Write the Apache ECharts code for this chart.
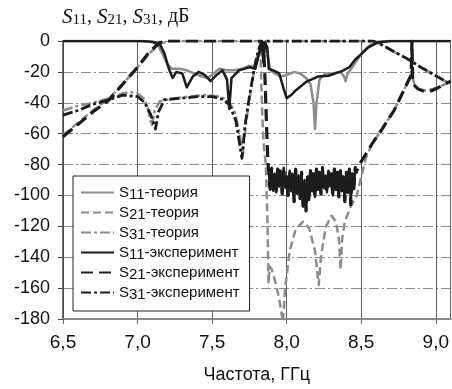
<!DOCTYPE html>
<html>
<head>
<meta charset="utf-8">
<script src="https://cdn.jsdelivr.net/npm/echarts@6/dist/echarts.min.js"></script>
<style>
  html, body { margin: 0; padding: 0; background: #fff; }
  #chart { width: 452px; height: 389px; }
</style>
</head>
<body>
<div id="chart"></div>
<script>
// Frequency axis ticks (GHz) and level ticks (dB)
const freqTicks = [6.5, 7.0, 7.5, 8.0, 8.5, 9.0];
const levelTicks = [0, -20, -40, -60, -80, -100, -120, -140, -160, -180];

const seriesNames = ['S11-теория', 'S21-теория', 'S31-теория',
                     'S11-эксперимент', 'S21-эксперимент', 'S31-эксперимент'];

// [frequency GHz, level dB]
const s11Theory = [
  [6.5, 0], [7.05, 0], [7.10, -0.8], [7.14, -3], [7.17, -9], [7.20, -15], [7.23, -18],
  [7.28, -18], [7.33, -19], [7.38, -21], [7.43, -23], [7.47, -24], [7.51, -21],
  [7.55, -18], [7.60, -19], [7.65, -19], [7.70, -18], [7.75, -16], [7.79, -17],
  [7.81, -10], [7.825, -2], [7.835, -0.5], [7.845, -3], [7.855, -0.5], [7.865, -1],
  [7.875, -10], [7.89, -19], [7.92, -21], [7.96, -23], [8.00, -22], [8.05, -20],
  [8.09, -21], [8.13, -24], [8.16, -28], [8.18, -40], [8.19, -57], [8.20, -40],
  [8.22, -25], [8.26, -21], [8.31, -21], [8.36, -20], [8.385, -23], [8.395, -26],
  [8.41, -21], [8.44, -17], [8.48, -11], [8.52, -6], [8.56, -2.5], [8.61, -0.5],
  [8.68, 0], [9.1, 0]
];

const s21Theory = [
  [6.5, -61], [6.6, -53], [6.7, -45], [6.81, -37], [6.9, -28], [7.0, -17],
  [7.08, -8], [7.15, -1.5], [7.22, 0], [7.815, 0], [7.825, -10], [7.835, -45],
  [7.845, -66], [7.86, -80], [7.872, -120], [7.878, -157], [7.885, -146],
  [7.90, -148], [7.93, -158], [7.955, -170], [7.975, -182], [7.99, -160],
  [8.02, -136], [8.06, -122], [8.11, -117], [8.15, -121], [8.19, -136],
  [8.215, -158], [8.23, -140], [8.26, -121], [8.30, -113], [8.33, -117],
  [8.35, -128], [8.362, -148], [8.372, -128], [8.39, -117], [8.43, -107],
  [8.47, -100], [8.50, -88], [8.53, -76], [8.57, -67], [8.64, -57], [8.72, -45],
  [8.80, -29], [8.835, -22], [8.84, -1], [8.845, -24], [8.86, -29], [8.88, -31],
  [8.93, -32], [8.98, -31], [9.04, -29], [9.1, -26]
];

const s31Theory = [
  [6.5, -45], [6.6, -42], [6.7, -40], [6.81, -37], [6.9, -34], [6.95, -33],
  [7.0, -34], [7.04, -37], [7.07, -44], [7.095, -55], [7.115, -45], [7.15, -39],
  [7.25, -37], [7.35, -36], [7.45, -35], [7.55, -36], [7.60, -38], [7.65, -45],
  [7.685, -60], [7.705, -74], [7.725, -55], [7.75, -38], [7.78, -20], [7.81, -6],
  [7.84, -1], [7.87, 0], [8.58, 0], [8.65, -3], [8.72, -7], [8.80, -11],
  [8.90, -17], [9.0, -22.5], [9.1, -28]
];

const s11Exp = [
  [6.5, 0], [7.02, 0], [7.10, -0.5], [7.15, -2], [7.18, -8], [7.21, -18],
  [7.235, -24], [7.26, -20], [7.30, -21], [7.33, -30], [7.37, -23], [7.41, -20],
  [7.45, -22], [7.49, -26], [7.53, -22], [7.57, -19], [7.60, -25], [7.615, -44],
  [7.63, -24], [7.68, -19], [7.75, -17], [7.79, -18], [7.815, -8], [7.83, -1],
  [7.845, -14], [7.855, -1], [7.87, -4], [7.88, -18], [7.91, -19], [7.95, -21],
  [7.98, -31], [8.0, -37], [8.03, -35], [8.06, -32], [8.13, -26.5], [8.21, -23],
  [8.28, -22.5], [8.37, -19.5], [8.42, -17], [8.46, -12], [8.50, -8.5],
  [8.55, -4], [8.61, -1], [8.70, 0], [9.1, 0]
];

// Measured transmission to port 2, including the noise floor of the stop band
const s21Exp = [
  [6.5, -62], [6.6, -54], [6.7, -46], [6.81, -38], [6.9, -28], [7.0, -17],
  [7.08, -7], [7.15, -1], [7.2, 0], [7.83, 0], [7.845, -3], [7.855, -25],
  [7.865, -55], [7.875, -80],
  [7.880, -84], [7.885, -93], [7.890, -96], [7.895, -85], [7.900, -82], [7.905, -91],
  [7.910, -97], [7.915, -88], [7.920, -86], [7.925, -95], [7.930, -98], [7.935, -87],
  [7.940, -83], [7.945, -90], [7.950, -94], [7.955, -84], [7.960, -85], [7.965, -93],
  [7.970, -99], [7.975, -89], [7.980, -82], [7.985, -88], [7.990, -95], [7.995, -90],
  [8.000, -88], [8.005, -96], [8.010, -100], [8.015, -91], [8.020, -84], [8.025, -89],
  [8.030, -97], [8.035, -92], [8.040, -86], [8.045, -95], [8.050, -104], [8.055, -93],
  [8.060, -83], [8.065, -90], [8.070, -99], [8.075, -94], [8.080, -87], [8.085, -96],
  [8.090, -102], [8.095, -92], [8.100, -85], [8.105, -97], [8.110, -107], [8.115, -96],
  [8.120, -90], [8.125, -99], [8.130, -110], [8.135, -97], [8.140, -88], [8.145, -95],
  [8.150, -103], [8.155, -91], [8.160, -84], [8.165, -90], [8.170, -97], [8.175, -93],
  [8.180, -86], [8.185, -94], [8.190, -101], [8.195, -90], [8.200, -83], [8.205, -89],
  [8.210, -96], [8.215, -91], [8.220, -85], [8.225, -93], [8.230, -99], [8.235, -88],
  [8.240, -82], [8.245, -90], [8.250, -95], [8.255, -92], [8.260, -87], [8.265, -94],
  [8.270, -98], [8.275, -89], [8.280, -84], [8.285, -91], [8.290, -94], [8.295, -88],
  [8.300, -86], [8.305, -95], [8.310, -100], [8.315, -90], [8.320, -83], [8.325, -89],
  [8.330, -96], [8.335, -92], [8.340, -85], [8.345, -94], [8.350, -101], [8.355, -91],
  [8.360, -84], [8.365, -90], [8.370, -97], [8.375, -93], [8.380, -88], [8.385, -97],
  [8.390, -104], [8.395, -94], [8.400, -85], [8.405, -92], [8.410, -98], [8.415, -89],
  [8.420, -83], [8.425, -95], [8.430, -106], [8.435, -93], [8.440, -86], [8.445, -91],
  [8.450, -96], [8.455, -88], [8.460, -82], [8.465, -85], [8.470, -86],
  [8.50, -78], [8.57, -67], [8.64, -57], [8.72, -45], [8.80, -29], [8.835, -22],
  [8.84, 0], [8.845, -25], [8.86, -29], [8.88, -31], [8.93, -33], [8.98, -32],
  [9.04, -29], [9.1, -26]
];

// Stop-band stretch of the measured S21 (dense sweep points), drawn as a solid trace
const noiseBand = [7.875, 8.47];

const s31Exp = [
  [6.5, -48], [6.6, -45], [6.7, -41], [6.81, -38], [6.9, -35], [7.0, -36],
  [7.05, -40], [7.09, -48], [7.12, -57], [7.14, -46], [7.18, -38], [7.3, -37],
  [7.4, -36], [7.5, -36], [7.58, -38], [7.62, -42], [7.66, -52], [7.70, -76],
  [7.72, -55], [7.75, -36], [7.79, -14], [7.82, -3], [7.85, 0], [8.58, 0],
  [8.65, -3], [8.72, -7], [8.80, -11], [8.90, -17], [9.0, -22.5], [9.1, -28]
];

const GRAY = '#8c8c8c';
const BLACK = '#1c1c1c';

const styles = [
  { data: s11Theory, color: GRAY, width: 2.5, type: 'solid' },
  { data: s21Theory, color: GRAY, width: 2.5, type: [8, 4] },
  { data: s31Theory, color: GRAY, width: 2.5, type: [10, 3, 3, 3] },
  { data: s11Exp, color: BLACK, width: 2.5, type: 'solid' },
  { data: s21Exp, color: BLACK, width: 3.2, type: [12, 6] },
  { data: s31Exp, color: BLACK, width: 2.8, type: [10, 3, 3, 3] }
];

const chart = echarts.init(document.getElementById('chart'), null, { renderer: 'canvas' });

const subName = n => n.replace(/S(\d+)/, 'S{sub|$1}');

const serifBase = { fontFamily: 'Liberation Serif', fontWeight: 'normal', color: '#111', verticalAlign: 'top' };

const lineSeries = styles.map((s, i) => ({
  name: seriesNames[i],
  type: 'line',
  data: s.data,
  symbol: 'none',
  showSymbol: false,
  smooth: false,
  clip: true,
  z: 2 + i,
  itemStyle: { color: s.color },
  lineStyle: { color: s.color, width: s.width, type: s.type, cap: 'butt', join: 'round' }
}));

// Dense noise-floor trace of the measured S21 (same legend entry)
lineSeries.push({
  name: seriesNames[4],
  type: 'line',
  data: s21Exp.filter(p => p[0] >= noiseBand[0] && p[0] <= noiseBand[1]),
  symbol: 'none',
  showSymbol: false,
  clip: true,
  z: 7,
  itemStyle: { color: BLACK },
  lineStyle: { color: BLACK, width: 2.4, type: 'solid', join: 'round' }
});

chart.setOption({
  animation: false,
  backgroundColor: '#fff',
  title: {
    left: 62, top: 7, padding: 0,
    text: '{it|S}{sub|11}{n|, }{it|S}{sub|21}{n|, }{it|S}{sub|31}{n|, дБ}',
    textStyle: {
      fontWeight: 'normal',
      rich: {
        it: Object.assign({}, serifBase, { fontStyle: 'italic', fontSize: 21, lineHeight: 21 }),
        n: Object.assign({}, serifBase, { fontSize: 20, lineHeight: 21 }),
        sub: Object.assign({}, serifBase, { fontSize: 15, lineHeight: 15, padding: [6, 0, 0, 0] })
      }
    }
  },
  grid: { left: 63, right: 0, top: 41, bottom: 66, containLabel: false },
  xAxis: {
    type: 'value', min: 6.5, max: 9.1, interval: 0.5,
    name: 'Частота, ГГц', nameLocation: 'middle', nameGap: 47,
    nameTextStyle: { fontFamily: 'Liberation Sans', fontSize: 18, color: '#111' },
    axisLine: { onZero: false, lineStyle: { color: '#8a8a8a', width: 2 } },
    axisTick: { show: true, length: 5, lineStyle: { color: '#666' } },
    axisLabel: {
      margin: 14, fontFamily: 'Liberation Sans', fontSize: 19, color: '#111',
      showMaxLabel: false,
      formatter: v => freqTicks.some(t => Math.abs(t - v) < 1e-6) ? v.toFixed(1).replace('.', ',') : ''
    },
    splitLine: { show: true, lineStyle: { color: '#606060', width: 1, type: 'solid' } }
  },
  yAxis: {
    type: 'value', min: -180, max: 0, interval: 20,
    axisLine: { show: true, lineStyle: { color: '#444', width: 1.5 } },
    axisTick: { show: true, length: 5, lineStyle: { color: '#444' } },
    axisLabel: {
      margin: 13, fontFamily: 'Liberation Sans', fontSize: 18, color: '#111',
      formatter: v => levelTicks.includes(v) ? String(v) : ''
    },
    splitLine: { show: true, lineStyle: { color: '#8a8a8a', width: 1, type: [10, 3, 2, 3] } }
  },
  legend: {
    orient: 'vertical', left: 73, top: 176,
    width: 182,
    padding: [9, 10, 9, 7],
    itemWidth: 33, itemHeight: 14, itemGap: 3, itemTextGap: 10,
    itemStyle: { opacity: 0 },
    backgroundColor: '#fff', borderColor: '#222', borderWidth: 1,
    data: seriesNames,
    formatter: subName,
    textStyle: {
      fontFamily: 'Liberation Sans', fontSize: 15, color: '#111',
      rich: {
        sub: { fontFamily: 'Liberation Sans', fontSize: 15, padding: [4, 0, 0, 0], color: '#111' }
      }
    }
  },
  series: lineSeries
});
</script>
</body>
</html>
